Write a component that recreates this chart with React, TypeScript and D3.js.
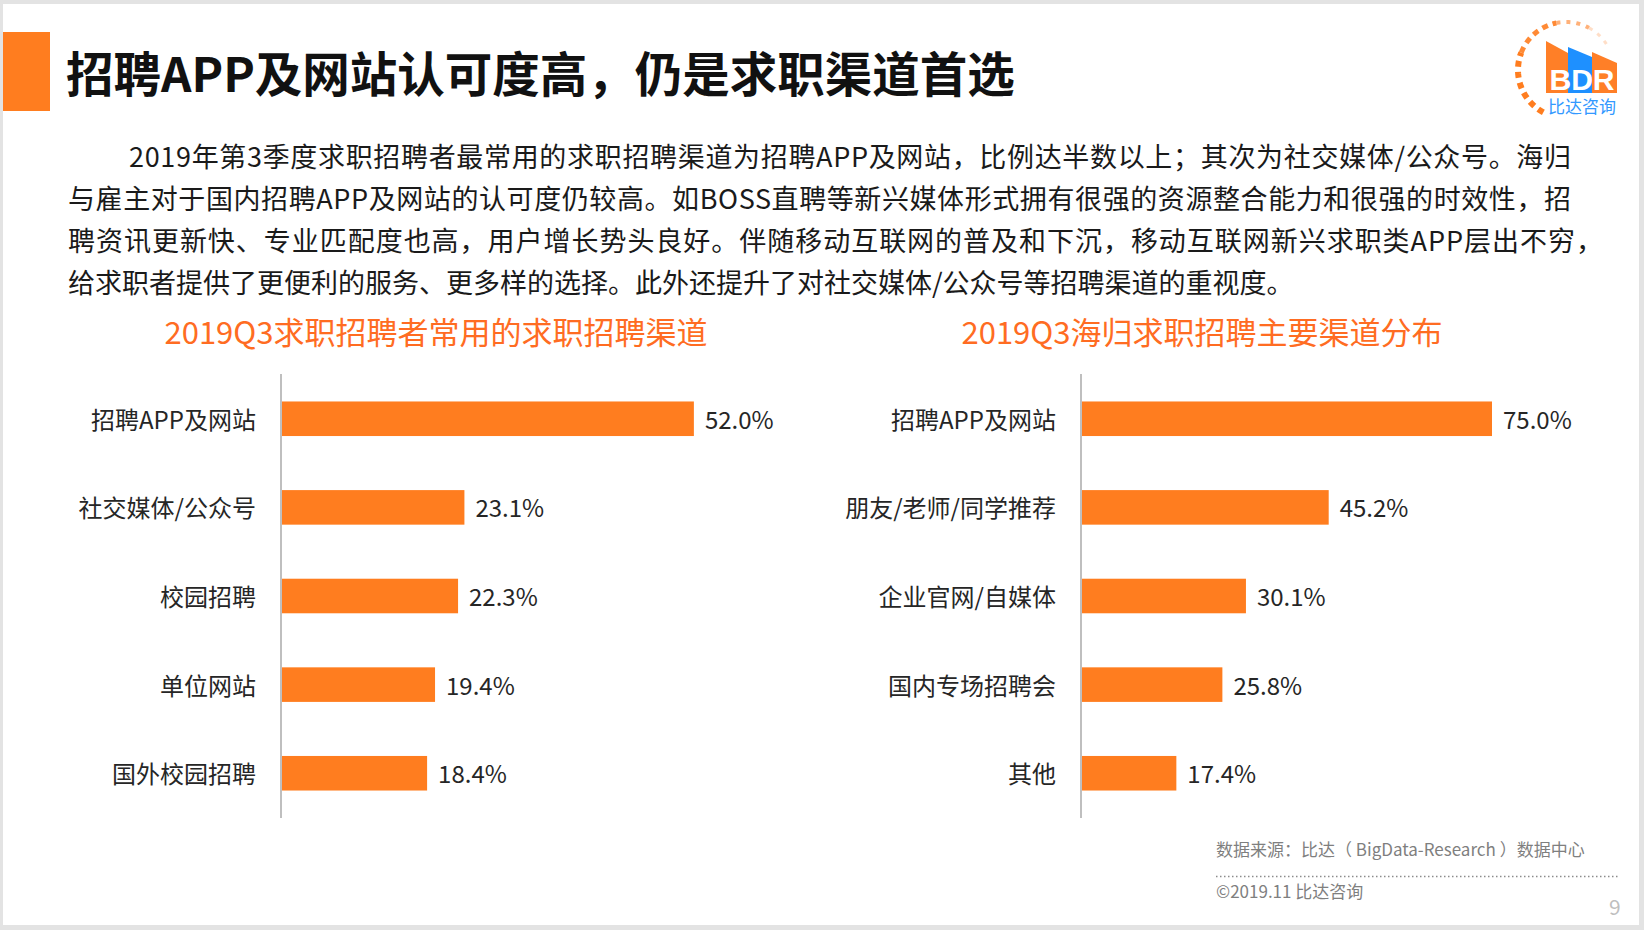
import React from 'react';
import * as d3 from 'd3';

// left chart: common channels of job seekers, 2019Q3
const leftCategories = ['招聘APP及网站', '社交媒体/公众号', '校园招聘', '单位网站', '国外校园招聘'];
const leftValues = [52.0, 23.1, 22.3, 19.4, 18.4];

// right chart: channels of returnees, 2019Q3
const rightCategories = ['招聘APP及网站', '朋友/老师/同学推荐', '企业官网/自媒体', '国内专场招聘会', '其他'];
const rightValues = [75.0, 45.2, 30.1, 25.8, 17.4];

const titleText = '招聘APP及网站认可度高，仍是求职渠道首选';
const leftTitle = '2019Q3求职招聘者常用的求职招聘渠道';
const rightTitle = '2019Q3海归求职招聘主要渠道分布';
const paragraph = [
    '2019年第3季度求职招聘者最常用的求职招聘渠道为招聘APP及网站，比例达半数以上；其次为社交媒体/公众号。海归',
    '与雇主对于国内招聘APP及网站的认可度仍较高。如BOSS直聘等新兴媒体形式拥有很强的资源整合能力和很强的时效性，招',
    '聘资讯更新快、专业匹配度也高，用户增长势头良好。伴随移动互联网的普及和下沉，移动互联网新兴求职类APP层出不穷，',
    '给求职者提供了更便利的服务、更多样的选择。此外还提升了对社交媒体/公众号等招聘渠道的重视度。'
];
const sourceText = '数据来源：比达（ BigData-Research ）数据中心';
const copyrightText = '©2019.11 比达咨询';

const W = 1644, H = 930;
const FONT = '"Noto Sans CJK SC", "Noto Sans", sans-serif';
const ORANGE = '#FF7D1F';

function BarChart({ categories, values, axisX, pxPerUnit, maxValue }) {
    const x = d3.scaleLinear()
        .domain([0, maxValue])
        .range([axisX, axisX + maxValue * pxPerUnit]);
    const y = d3.scaleBand()
        .domain(categories)
        .range([374, 818])
        .paddingInner(0.61)
        .paddingOuter(0.31);

    return (
        <g>
            {categories.map((c, i) => (
                <g key={c}>
                    <rect x={x(0)} y={y(c)} width={x(values[i]) - x(0)} height={y.bandwidth()}
                        fill={ORANGE} />
                    <text x={axisX - 25} y={y(c) + y.bandwidth() / 2} dy="0.42em"
                        textAnchor="end" fontSize={24} fill="#262626">{c}</text>
                    <text x={x(values[i]) + 11} y={y(c) + y.bandwidth() / 2} dy="0.42em"
                        fontSize={24} fill="#262626">{values[i].toFixed(1) + '%'}</text>
                </g>
            ))}
            <line x1={axisX} x2={axisX} y1={374} y2={818} stroke="#BFBFBF" strokeWidth={2} />
        </g>
    );
}

function Logo() {
    const cx = 1566, cy = 70, r = 48;
    // dashed ring, fading toward the top right
    const pieces = [
        { a0: -2.65, a1: -1.2, op: 1 },
        { a0: -1.2, a1: -0.2, op: 0.9 },
        { a0: -0.2, a1: 0.5, op: 0.6 },
        { a0: 0.5, a1: 1.0, op: 0.25 },
    ];
    const line = d3.lineRadial().angle(d => d).radius(r);
    return (
        <g>
            {pieces.map((p, i) => (
                <path key={i} transform={`translate(${cx},${cy})`} d={line(d3.range(p.a0, p.a1, 0.001))}
                    fill="none" stroke={ORANGE} strokeOpacity={p.op} strokeWidth={6 - i}
                    strokeDasharray={i < 2 ? '6 5' : '4 6'} />
            ))}
            <path d="M1546,41 L1568,53 L1568,93 L1546,93 Z" fill="#FF7F27" />
            <path d="M1568,47 L1592,57 L1592,93 L1568,93 Z" fill="#1E90FF" />
            <path d="M1592,52 L1617,63 L1617,93 L1592,93 Z" fill="#FF7F27" />
            <text x={1582} y={90} textAnchor="middle" fontSize={30} fontWeight={600}
                fontFamily='"Liberation Sans", Arial, sans-serif' fill="#fff">BDR</text>
            <text x={1582} y={107} dy="0.35em" textAnchor="middle" fontSize={17}
                fill="#3399FF">比达咨询</text>
        </g>
    );
}

export default function App() {
    const lineY = [157, 199, 241, 283];
    const lineX = [129, 68, 68, 68];
    const lineLen = [1442, 1503, 1535, null];

    return (
        <svg width={W} height={H} style={{ position: 'absolute', left: 0, top: 0 }}
            fontFamily={FONT}>
            <rect x={0} y={0} width={W} height={H} fill="#E3E3E3" />
            <rect x={3} y={4} width={1636} height={921} fill="#fff" />

            <rect x={3} y={32} width={47} height={79} fill={ORANGE} />
            <text x={66} y={75} dy="0.36em" fontSize={47.5} fontWeight={700} fill="#111">{titleText}</text>
            <Logo />

            {paragraph.map((t, i) => (
                <text key={i} x={lineX[i]} y={lineY[i]} dy="0.36em" fontSize={27} fill="#1a1a1a"
                    textLength={lineLen[i] || undefined}
                    lengthAdjust={lineLen[i] ? 'spacing' : undefined}>{t}</text>
            ))}

            <text x={436} y={333} dy="0.36em" textAnchor="middle" fontSize={31} fill="#FF6C22">{leftTitle}</text>
            <text x={1202} y={333} dy="0.36em" textAnchor="middle" fontSize={31} fill="#FF6C22">{rightTitle}</text>

            <BarChart categories={leftCategories} values={leftValues} axisX={281} pxPerUnit={7.94} maxValue={60} />
            <BarChart categories={rightCategories} values={rightValues} axisX={1081} pxPerUnit={5.48} maxValue={80} />

            <text x={1216} y={850} dy="0.35em" fontSize={17} fill="#7F7F7F">{sourceText}</text>
            <line x1={1216} x2={1620} y1={876.5} y2={876.5} stroke="#8c8c8c" strokeWidth={1.5}
                strokeDasharray="1.5 2.5" />
            <text x={1216} y={892} dy="0.35em" fontSize={17} fill="#7F7F7F">{copyrightText}</text>
            <text x={1609} y={908} dy="0.35em" fontSize={21} fill="#BFBFBF">9</text>
        </svg>
    );
}
